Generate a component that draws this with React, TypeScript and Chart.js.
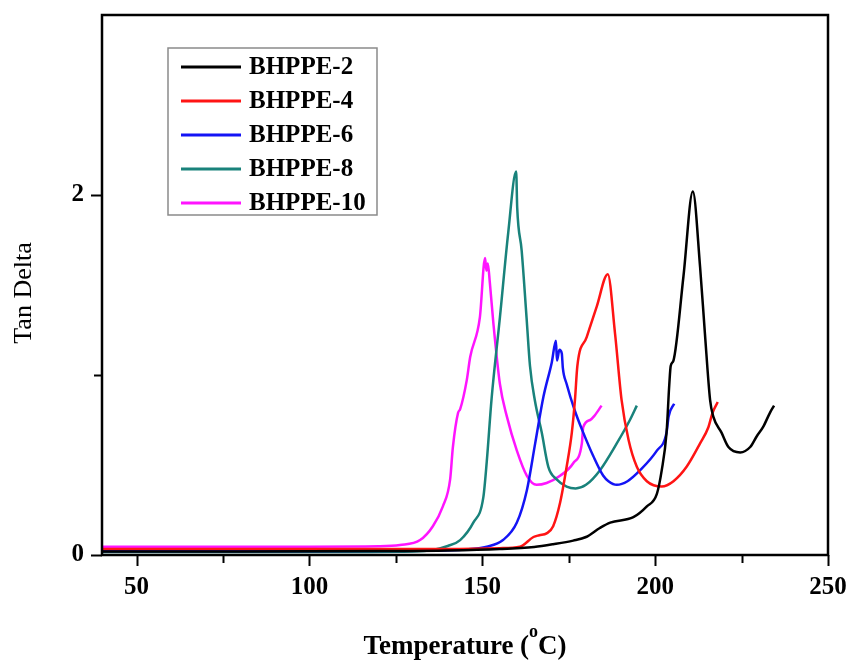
import React, { useEffect, useRef } from "react";
import { Chart, registerables } from "chart.js";

Chart.register(...registerables);

const seriesNames = ["BHPPE-2", "BHPPE-4", "BHPPE-6", "BHPPE-8", "BHPPE-10"];
const seriesColors = ["#000000", "#ff1414", "#1414f5", "#19827b", "#ff14ff"];

const b2T = [40, 80, 120, 140, 155, 165, 170.5, 176.3, 180, 184, 187, 193.7, 197.6, 200.5, 201.9, 203.3, 204.1, 204.5, 205.3, 208.2, 210.9, 213, 214.4, 215.9, 216.8, 219.2, 221.2, 224.6, 227.5, 229.4, 231.2, 233.2, 234.4];
const b2Y = [0.02, 0.02, 0.022, 0.025, 0.033, 0.045, 0.06, 0.08, 0.1, 0.15, 0.18, 0.21, 0.27, 0.34, 0.47, 0.68, 0.95, 1.05, 1.08, 1.55, 2.02, 1.6, 1.23, 0.86, 0.77, 0.68, 0.6, 0.57, 0.6, 0.66, 0.71, 0.79, 0.83];

const b4T = [40, 100, 140, 155, 160.9, 164.8, 166.5, 168.6, 170.5, 172.5, 174.4, 175.9, 176.8, 177.5, 180.2, 183.1, 186.3, 188.4, 190.3, 192.3, 194.7, 197.6, 201.9, 205.3, 209.1, 213, 215.4, 216.6, 218.1];
const b4Y = [0.033, 0.033, 0.034, 0.038, 0.046, 0.1, 0.11, 0.12, 0.16, 0.29, 0.49, 0.68, 0.86, 1.05, 1.21, 1.38, 1.56, 1.23, 0.86, 0.64, 0.49, 0.41, 0.38, 0.41, 0.49, 0.62, 0.71, 0.79, 0.85];

const b6T = [40, 100, 135, 145, 151.3, 156, 160, 162.9, 165.3, 167.7, 170.1, 171.3, 171.6, 172.3, 173, 173.3, 174.4, 176.8, 179.2, 182.1, 185, 186.5, 188.9, 192, 195.6, 200.5, 203.3, 203.9, 205.5];
const b6Y = [0.022, 0.022, 0.024, 0.03, 0.046, 0.083, 0.18, 0.36, 0.62, 0.88, 1.07, 1.19, 1.08, 1.14, 1.12, 1.04, 0.95, 0.8, 0.68, 0.55, 0.44, 0.41, 0.39, 0.41, 0.47, 0.58, 0.68, 0.77, 0.84];

const b8T = [40, 100, 130, 135.7, 140, 143.6, 147.4, 150.3, 151.3, 152.7, 155.1, 157.5, 159.8, 160.1, 161.4, 162.8, 163.8, 165.2, 167.2, 169.1, 171.5, 174.4, 177, 180, 184, 188.9, 192.7, 194.7];
const b8Y = [0.017, 0.017, 0.02, 0.028, 0.05, 0.083, 0.18, 0.32, 0.52, 0.87, 1.32, 1.79, 2.13, 1.93, 1.69, 1.32, 1.05, 0.86, 0.68, 0.49, 0.42, 0.38, 0.37, 0.39, 0.47, 0.62, 0.75, 0.83];

const b10T = [40, 100, 120, 126.2, 132, 135.7, 138.6, 140.7, 141.5, 143, 143.6, 145.5, 146.5, 149.3, 150.8, 151.2, 151.6, 152.2, 153.2, 155.1, 157.1, 160, 162.9, 165.7, 168.6, 172.5, 176.3, 178.8, 179.2, 181.2, 182.3, 184.5];
const b10Y = [0.046, 0.046, 0.048, 0.055, 0.083, 0.16, 0.27, 0.42, 0.6, 0.79, 0.81, 0.97, 1.1, 1.32, 1.65, 1.58, 1.62, 1.51, 1.29, 0.95, 0.77, 0.58, 0.44, 0.39, 0.4, 0.44, 0.51, 0.62, 0.71, 0.75, 0.77, 0.83];

const seriesT = [b2T, b4T, b6T, b8T, b10T];
const seriesY = [b2Y, b4Y, b6Y, b8Y, b10Y];

const xTicks = [50, 75, 100, 125, 150, 175, 200, 225, 250];
const xTickLabels = ["50", "", "100", "", "150", "", "200", "", "250"];
const yTicks = [0, 1, 2];
const yTickLabels = ["0", "", "2"];

const xTitleMain = "Temperature (";
const xTitleSup = "o";
const xTitleEnd = "C)";
const yTitle = "Tan Delta";

const SERIF = "'Liberation Serif', 'Times New Roman', serif";

const overlayPlugin = {
  id: "overlay",
  afterDraw(chart: any) {
    const { ctx, chartArea: a, scales } = chart;
    ctx.save();
    ctx.strokeStyle = "#000";
    ctx.lineWidth = 2.5;
    ctx.strokeRect(a.left, a.top, a.right - a.left, a.bottom - a.top);

    ctx.lineWidth = 2;
    xTicks.forEach((v, i) => {
      const px = Math.round(scales.x.getPixelForValue(v)) + 0.5;
      const len = xTickLabels[i] ? 11 : 8;
      ctx.beginPath();
      ctx.moveTo(px, a.bottom);
      ctx.lineTo(px, a.bottom + len);
      ctx.stroke();
    });
    yTicks.forEach((v, i) => {
      const py = Math.round(scales.y.getPixelForValue(v)) + 0.5;
      const len = yTickLabels[i] ? 11 : 8;
      ctx.beginPath();
      ctx.moveTo(a.left, py);
      ctx.lineTo(a.left - len, py);
      ctx.stroke();
    });

    ctx.fillStyle = "#000";
    ctx.textBaseline = "alphabetic";
    const mainFont = `bold 27px ${SERIF}`;
    const supFont = `bold 18px ${SERIF}`;
    ctx.font = mainFont;
    const w1 = ctx.measureText(xTitleMain).width;
    const w3 = ctx.measureText(xTitleEnd).width;
    ctx.font = supFont;
    const w2 = ctx.measureText(xTitleSup).width;
    const total = w1 + w2 + w3;
    const cx = (a.left + a.right) / 2;
    let x0 = cx - total / 2;
    const baseY = 654;
    ctx.font = mainFont;
    ctx.textAlign = "left";
    ctx.fillText(xTitleMain, x0, baseY);
    x0 += w1;
    ctx.font = supFont;
    ctx.fillText(xTitleSup, x0, baseY - 17);
    x0 += w2;
    ctx.font = mainFont;
    ctx.fillText(xTitleEnd, x0, baseY);

    ctx.save();
    ctx.translate(24, (a.top + a.bottom) / 2 + 8);
    ctx.rotate(-Math.PI / 2);
    ctx.font = `26px ${SERIF}`;
    ctx.textAlign = "center";
    ctx.textBaseline = "middle";
    ctx.fillText(yTitle, 0, 0);
    ctx.restore();

    const lx = 168, ly = 48, lw = 209, lh = 167;
    ctx.fillStyle = "#fff";
    ctx.fillRect(lx, ly, lw, lh);
    ctx.strokeStyle = "#8a8a8a";
    ctx.lineWidth = 1.5;
    ctx.strokeRect(lx, ly, lw, lh);
    ctx.font = `bold 25px ${SERIF}`;
    ctx.textAlign = "left";
    ctx.textBaseline = "middle";
    seriesNames.forEach((name, i) => {
      const y = 67 + i * 34;
      ctx.strokeStyle = seriesColors[i];
      ctx.lineWidth = 3;
      ctx.beginPath();
      ctx.moveTo(181, y);
      ctx.lineTo(241, y);
      ctx.stroke();
      ctx.fillStyle = "#000";
      ctx.fillText(name, 249, y + 1);
    });
    ctx.restore();
  },
};

const zeroPad = (scale: any) => {
  scale.paddingTop = 0;
  scale.paddingBottom = 0;
  scale.paddingLeft = 0;
  scale.paddingRight = 0;
};

export default function App() {
  const ref = useRef<HTMLCanvasElement | null>(null);

  useEffect(() => {
    document.body.style.margin = "0";
    document.body.style.overflow = "hidden";
    const canvas = ref.current;
    if (!canvas) return;
    const datasets = seriesNames.map((name, i) => ({
      label: name,
      data: seriesT[i].map((t, j) => ({ x: t, y: seriesY[i][j] })),
      borderColor: seriesColors[i],
      backgroundColor: seriesColors[i],
      borderWidth: 2.5,
      pointRadius: 0,
      cubicInterpolationMode: "monotone" as const,
      fill: false,
    }));
    const chart = new Chart(canvas, {
      type: "line",
      data: { datasets },
      options: {
        animation: false,
        responsive: false,
        maintainAspectRatio: false,
        layout: { padding: { top: 15, right: 20, left: 0, bottom: 0 } },
        plugins: {
          legend: { display: false },
          tooltip: { enabled: false },
        },
        scales: {
          x: {
            type: "linear",
            min: 40,
            max: 250,
            grid: { display: false },
            border: { display: false },
            afterBuildTicks: (scale: any) => {
              scale.ticks = xTicks.map((v) => ({ value: v }));
            },
            afterFit: (scale: any) => {
              scale.height = 107;
              zeroPad(scale);
            },
            ticks: {
              autoSkip: false,
              maxRotation: 0,
              padding: 10,
              color: "#000",
              font: { family: SERIF, size: 25, weight: "bold" },
              callback: (v: any) => {
                const idx = xTicks.indexOf(Number(v));
                return idx >= 0 ? xTickLabels[idx] : "";
              },
            },
          },
          y: {
            type: "linear",
            min: 0,
            max: 3,
            grid: { display: false },
            border: { display: false },
            afterBuildTicks: (scale: any) => {
              scale.ticks = yTicks.map((v) => ({ value: v }));
            },
            afterFit: (scale: any) => {
              scale.width = 102;
              zeroPad(scale);
            },
            ticks: {
              autoSkip: false,
              padding: 10,
              color: "#000",
              font: { family: SERIF, size: 25, weight: "bold" },
              callback: (v: any) => {
                const idx = yTicks.indexOf(Number(v));
                return idx >= 0 ? yTickLabels[idx] : "";
              },
            },
          },
        },
      },
      plugins: [overlayPlugin],
    });
    return () => chart.destroy();
  }, []);

  return (
    <div style={{ width: 848, height: 662, background: "#fff" }}>
      <canvas ref={ref} width={848} height={662} style={{ display: "block" }} />
    </div>
  );
}
